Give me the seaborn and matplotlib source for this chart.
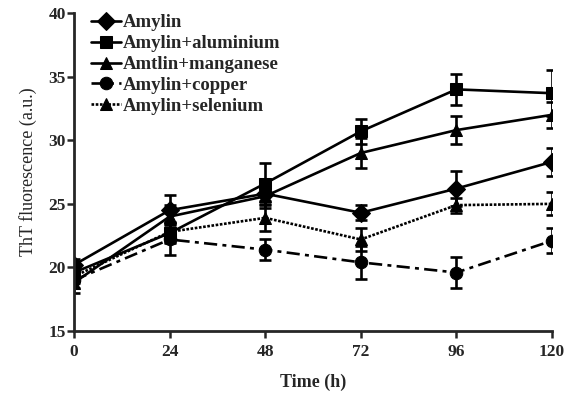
import matplotlib
matplotlib.use("Agg")
import matplotlib.pyplot as plt
import numpy as np
import pandas as pd
import seaborn as sns

time_h = [0, 24, 48, 72, 96, 120]
series_names = ["Amylin", "Amylin+aluminium", "Amtlin+manganese", "Amylin+copper", "Amylin+selenium"]

amylin = [20.2, 24.5, 25.8, 24.3, 26.2, 28.3]
amylin_err = [0.5, 1.2, 0.6, 0.6, 1.4, 1.1]
aluminium = [19.6, 22.7, 26.6, 30.7, 34.0, 33.7]
aluminium_err = [0.6, 0.8, 1.6, 1.0, 1.2, 1.8]
manganese = [18.8, 24.0, 25.6, 29.0, 30.8, 32.0]
manganese_err = [0.8, 0.9, 0.9, 1.2, 1.1, 1.0]
copper = [19.0, 22.2, 21.4, 20.4, 19.6, 22.1]
copper_err = [0.6, 1.2, 0.8, 1.3, 1.2, 1.0]
selenium = [19.3, 22.8, 23.9, 22.2, 24.9, 25.0]
selenium_err = [0.5, 0.8, 1.0, 0.9, 0.6, 0.9]

values = [amylin, aluminium, manganese, copper, selenium]
errors = [amylin_err, aluminium_err, manganese_err, copper_err, selenium_err]

rows = []
for name, vals, errs in zip(series_names, values, errors):
    for t, v, e in zip(time_h, vals, errs):
        rows.append({"time": t, "value": v, "err": e, "series": name})
df = pd.DataFrame(rows)

sns.set_style("ticks")
plt.rcParams["font.family"] = ["Liberation Serif", "DejaVu Serif"]

fig = plt.figure(figsize=(5.67, 3.96), dpi=100)
ax = fig.add_axes([0.1305, 0.164, 0.843, 0.803])

markers = {"Amylin": "D", "Amylin+aluminium": "s", "Amtlin+manganese": "^",
           "Amylin+copper": "o", "Amylin+selenium": "^"}
dashes = {"Amylin": "", "Amylin+aluminium": "", "Amtlin+manganese": "",
          "Amylin+copper": (5, 2, 1.5, 2), "Amylin+selenium": (1, 0.6)}
palette = {n: "black" for n in series_names}

sns.lineplot(data=df, x="time", y="value", hue="series", style="series",
             hue_order=series_names, style_order=series_names,
             markers=markers, dashes=dashes, palette=palette,
             linewidth=1.9, markersize=9, markeredgecolor="black", ax=ax)

for name, g in df.groupby("series", sort=False):
    ax.errorbar(g["time"], g["value"], yerr=g["err"], fmt="none",
                ecolor="black", elinewidth=1.9, capsize=4, capthick=1.9)

ax.set_xlim(0, 120)
ax.set_ylim(15, 40)
ax.set_xticks(time_h)
ax.set_yticks([15, 20, 25, 30, 35, 40])
sns.despine(ax=ax)
for s in ["left", "bottom"]:
    ax.spines[s].set_linewidth(2)
ax.tick_params(width=1.8, length=5, labelsize=12.5)
ax.tick_params(axis="x", pad=4)
ax.tick_params(axis="y", pad=1)
for lab in ax.get_xticklabels() + ax.get_yticklabels():
    lab.set_fontweight("bold")

ax.set_xlabel("Time (h)", fontsize=13, fontweight="bold", labelpad=10)
ax.set_ylabel("ThT fluorescence (a.u.)", fontsize=13, labelpad=8)

leg = ax.legend(loc="upper left", bbox_to_anchor=(0.02, 1.02), frameon=False,
                handlelength=1.6, handletextpad=0.1, labelspacing=0.2,
                borderaxespad=0, prop={"weight": "bold", "size": 13.5})

fig.savefig("out.png", dpi=100)
